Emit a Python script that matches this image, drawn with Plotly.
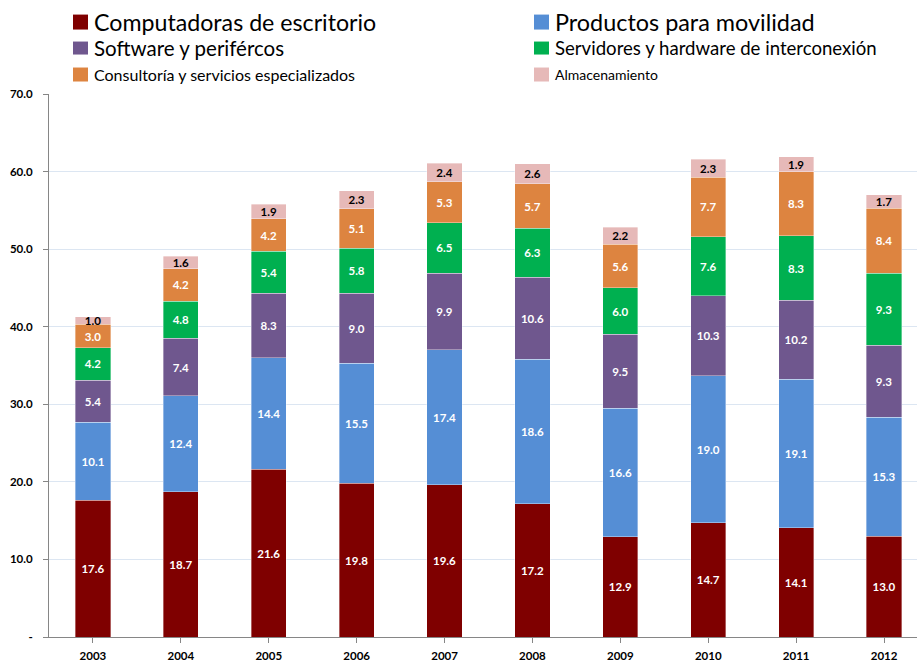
import plotly.graph_objects as go

years = ["2003", "2004", "2005", "2006", "2007", "2008", "2009", "2010", "2011", "2012"]
computadoras = [17.6, 18.7, 21.6, 19.8, 19.6, 17.2, 12.9, 14.7, 14.1, 13.0]
movilidad = [10.1, 12.4, 14.4, 15.5, 17.4, 18.6, 16.6, 19.0, 19.1, 15.3]
software = [5.4, 7.4, 8.3, 9.0, 9.9, 10.6, 9.5, 10.3, 10.2, 9.3]
servidores = [4.2, 4.8, 5.4, 5.8, 6.5, 6.3, 6.0, 7.6, 8.3, 9.3]
consultoria = [3.0, 4.2, 4.2, 5.1, 5.3, 5.7, 5.6, 7.7, 8.3, 8.4]
almacenamiento = [1.0, 1.6, 1.9, 2.3, 2.4, 2.6, 2.2, 2.3, 1.9, 1.7]

y_ticks = [0, 10, 20, 30, 40, 50, 60, 70]
y_ticktext = ["-", "10.0", "20.0", "30.0", "40.0", "50.0", "60.0", "70.0"]

series = [
    ("Computadoras de escritorio", computadoras, "#7F0000", "white"),
    ("Productos para movilidad", movilidad, "#558ED5", "white"),
    ("Software y perifércos", software, "#6F578E", "white"),
    ("Servidores y hardware de interconexión", servidores, "#00B050", "white"),
    ("Consultoría y servicios especializados", consultoria, "#DD8440", "white"),
    ("Almacenamiento", almacenamiento, "#E6B9B8", "black"),
]

FONT = "Lato, 'Open Sans', sans-serif"

fig = go.Figure()
for name, vals, color, tcolor in series:
    fig.add_trace(go.Bar(
        x=list(range(len(years))), y=vals, name=name,
        marker=dict(color=color, line=dict(color="rgba(255,255,255,0.6)", width=0.6)),
        width=0.4,
        text=[f"{v:.1f}" for v in vals],
        textposition="inside", insidetextanchor="middle",
        constraintext="none", textangle=0,
        textfont=dict(color=tcolor, size=11.5, family=FONT, weight="bold"),
        showlegend=False,
    ))

W, H = 917, 662
L, R, T, B = 49, 0, 93.5, 25
pw = W - L - R
ph = H - T - B

def px(x):
    return (x - L) / pw

def py(y):
    return (H - B - y) / ph

legend = [
    ("Computadoras de escritorio", "#7F0000", 73, 14, 29, 23.2),
    ("Software y perifércos", "#6F578E", 73, 41, 54, 20.5),
    ("Consultoría y servicios especializados", "#DD8440", 73, 67, 81, 16),
    ("Productos para movilidad", "#558ED5", 534, 14, 29, 23.4),
    ("Servidores y hardware de interconexión", "#00B050", 534, 41, 54, 18.6),
    ("Almacenamiento", "#E6B9B8", 534, 67, 81, 14),
]
for text, color, x0, y0, y1, fs in legend:
    fig.add_shape(type="rect", xref="paper", yref="paper",
                  x0=px(x0), x1=px(x0 + 15), y0=py(y1), y1=py(y0),
                  fillcolor=color, line=dict(width=0))
    fig.add_annotation(xref="paper", yref="paper", x=px(x0 + 19), y=py((y0 + y1) / 2),
                       text=text, showarrow=False, xanchor="left", yanchor="middle",
                       font=dict(size=fs, color="black", family=FONT))

fig.update_layout(
    width=W, height=H,
    margin=dict(l=L, r=R, t=T, b=B, autoexpand=False),
    paper_bgcolor="white", plot_bgcolor="white",
    barmode="stack", bargap=0.6,
    font=dict(family=FONT, color="black"),
    xaxis=dict(
        tickmode="array", tickvals=list(range(len(years))), ticktext=years,
        range=[-0.5, -0.5 + pw / 87.9],
        showgrid=False, showline=True, linecolor="#868686", linewidth=1,
        ticks="outside", ticklen=5, tickcolor="#868686",
        tickfont=dict(size=11.5, family=FONT, weight="bold"),
        automargin=False, ticklabelstandoff=3,
    ),
    yaxis=dict(
        range=[0, 70], tickmode="array", tickvals=y_ticks, ticktext=y_ticktext,
        showgrid=True, gridcolor="#DCE6F2", gridwidth=1,
        showline=True, linecolor="#868686", linewidth=1,
        ticks="outside", ticklen=5, tickcolor="#868686",
        tickfont=dict(size=11.5, family=FONT, weight="bold"),
        automargin=False, zeroline=False, ticklabelstandoff=8,
    ),
)

fig.write_html("out.html", config={"displayModeBar": False},
               post_script="document.body.style.margin='0';document.body.style.overflow='hidden';")
